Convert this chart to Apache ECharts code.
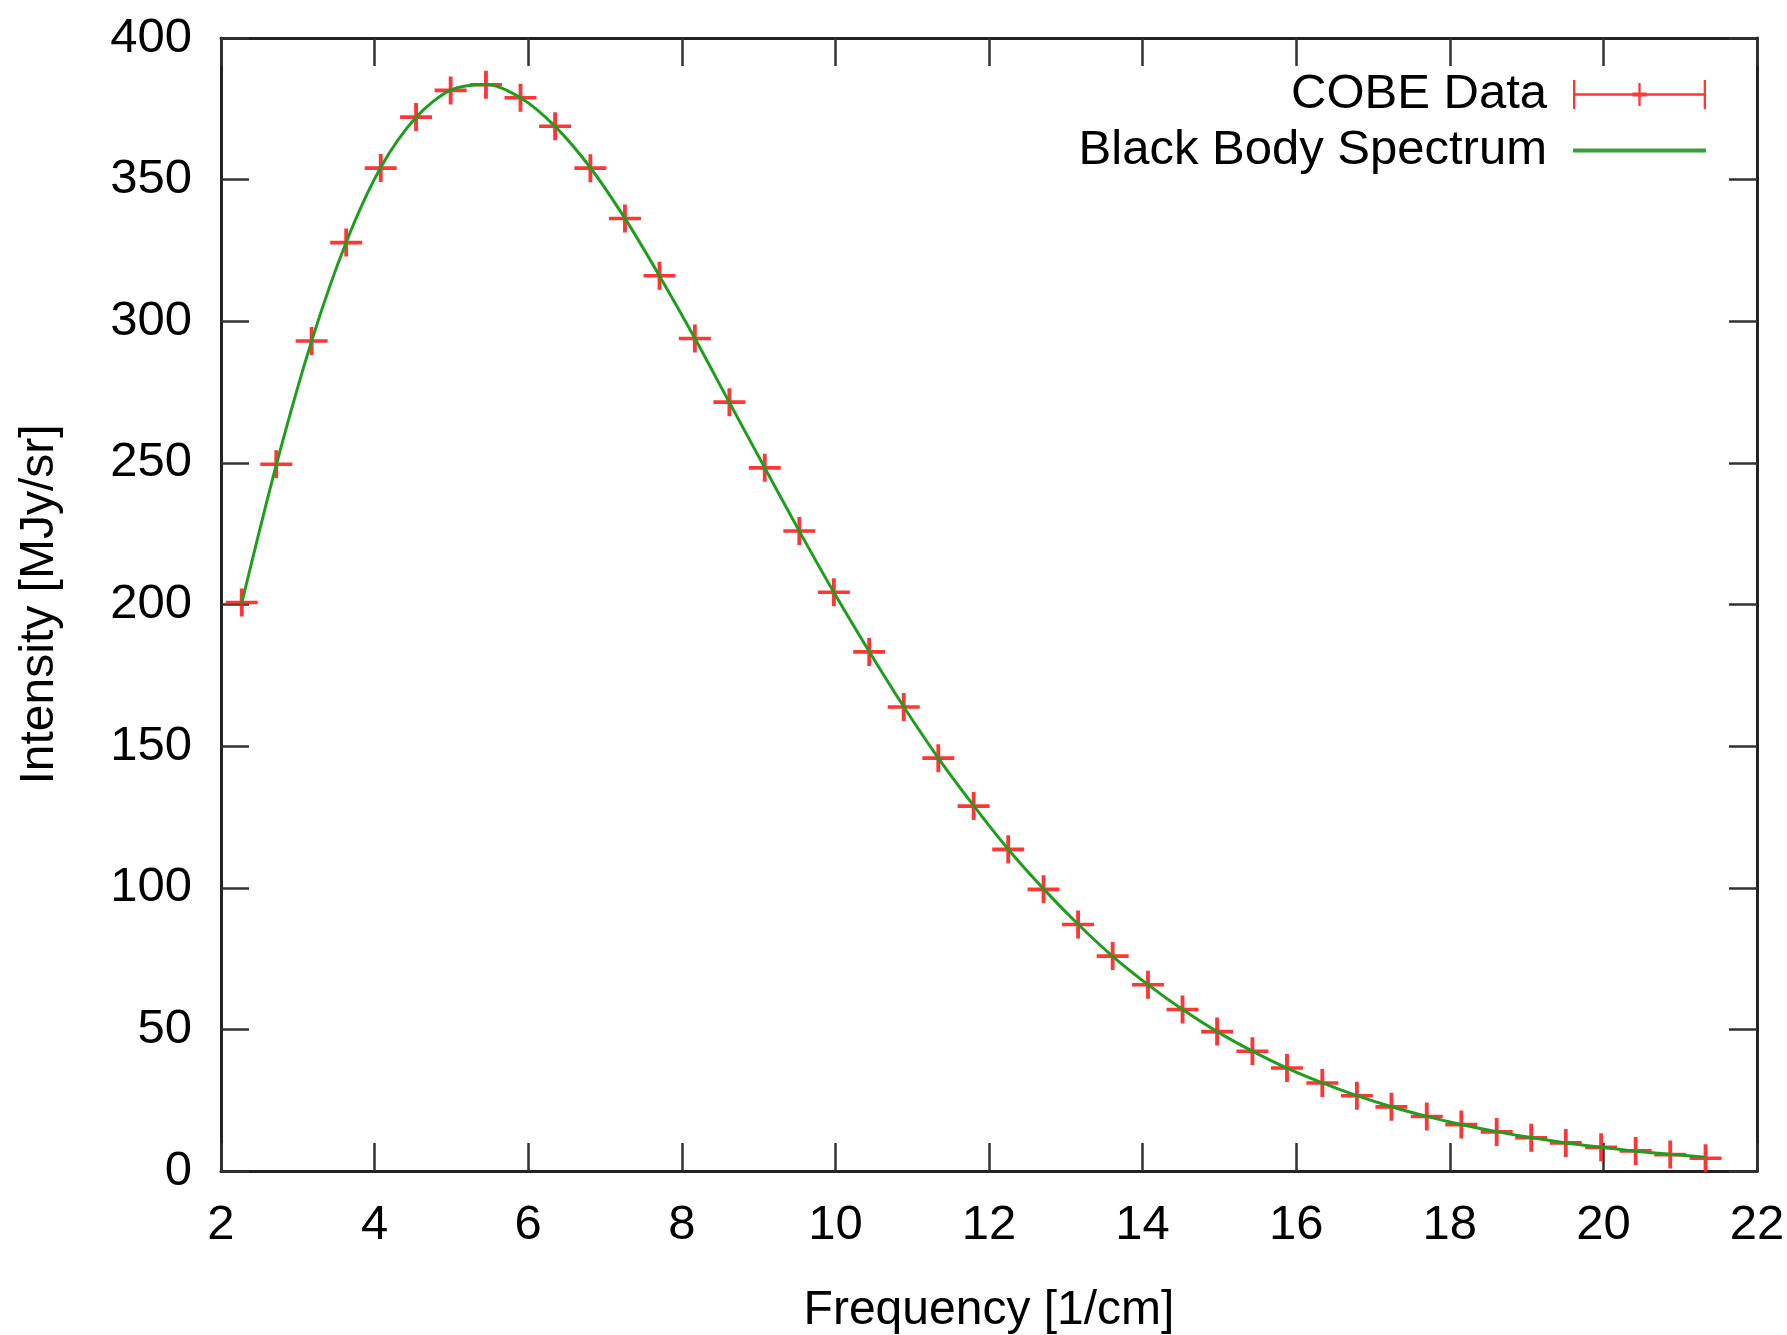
<!DOCTYPE html>
<html>
<head>
<meta charset="utf-8">
<script src="https://cdn.jsdelivr.net/npm/echarts@6/dist/echarts.min.js"></script>
<style>
html,body{margin:0;padding:0;background:#fff;}
#chart{width:1787px;height:1335px;}
</style>
</head>
<body>
<div id="chart"></div>
<script>
// Frequency [1/cm]
const frequency = [2.27, 2.72, 3.18, 3.63, 4.08, 4.54, 4.99, 5.45, 5.90, 6.35, 6.81, 7.26, 7.71, 8.17, 8.62, 9.08, 9.53, 9.98, 10.44, 10.89, 11.34, 11.80, 12.25, 12.71, 13.16, 13.61, 14.07, 14.52, 14.97, 15.43, 15.88, 16.34, 16.79, 17.24, 17.70, 18.15, 18.61, 19.06, 19.51, 19.97, 20.42, 20.87, 21.33];
// COBE Data intensity [MJy/sr]
const cobeIntensity = [200.72, 249.51, 293.02, 327.77, 354.08, 372.08, 381.49, 383.48, 378.90, 368.83, 354.06, 336.28, 316.08, 293.92, 271.43, 248.24, 225.94, 204.33, 183.26, 163.83, 145.75, 128.84, 113.57, 99.45, 87.04, 75.88, 65.77, 57.01, 49.22, 42.27, 36.35, 31.06, 26.58, 22.64, 19.26, 16.39, 13.81, 11.72, 9.92, 8.36, 7.09, 5.80, 4.52];
// Black Body Spectrum curve
const blackBodyIntensity = [200.5, 249.3, 293.0, 327.9, 354.3, 372.0, 381.6, 383.6, 378.9, 368.8, 354.2, 336.3, 316.0, 294.0, 271.3, 248.3, 225.9, 204.3, 183.4, 163.9, 145.8, 129.0, 113.6, 99.6, 87.1, 75.8, 65.8, 57.0, 49.2, 42.3, 36.3, 31.1, 26.6, 22.7, 19.3, 16.4, 13.9, 11.8, 9.9, 8.4, 7.0, 5.9, 4.9];
const xTicks = {min: 2, max: 22, interval: 2};
const yTicks = {min: 0, max: 400, interval: 50};

const FONT = 'Liberation Sans, Arial, sans-serif';
const cobeData = frequency.map((f, i) => [f, cobeIntensity[i]]);
const bbData = frequency.map((f, i) => [f, blackBodyIntensity[i]]);

const axisLine = {show: true, onZero: false, lineStyle: {color: '#222', width: 3}};
const axisTick = {show: true, inside: true, length: 28, lineStyle: {color: '#333', width: 2.5}};
const labelStyle = {fontFamily: FONT, fontSize: 49, color: '#000'};

const plusPath = 'path://M0,4.35H10V5.65H0Z M4.4,0H5.6V10H4.4Z';
const errBarPath = 'path://M0,0H0.8V10H0Z M0,4.6H45.9V5.4H0Z M45.1,0H45.9V10H45.1Z M22.55,1H23.35V9H22.55Z M20.5,4.3H25.4V5.7H20.5Z';
const linePath = 'path://M0,0H33.25V1H0Z';

const chart = echarts.init(document.getElementById('chart'), null, {renderer: 'canvas'});
chart.setOption({
  animation: false,
  backgroundColor: '#fff',
  grid: {left: 221, right: 30, top: 38, bottom: 164, containLabel: false, outerBoundsMode: 'none'},
  legend: {
    orient: 'vertical',
    align: 'right',
    right: 76,
    top: 64,
    itemGap: 5,
    itemWidth: 133,
    itemHeight: 29,
    selectedMode: false,
    textStyle: {fontFamily: FONT, fontSize: 49, color: '#000', lineHeight: 51, padding: [0, 21, 0, 0]},
    data: [
      {name: 'COBE Data', icon: errBarPath, itemStyle: {color: '#ff2020'}},
      {name: 'Black Body Spectrum', icon: linePath, itemStyle: {color: '#3a9e3a'}}
    ]
  },
  xAxis: [
    {type: 'value', min: xTicks.min, max: xTicks.max, interval: xTicks.interval,
     name: 'Frequency [1/cm]', nameLocation: 'middle', nameGap: 116,
     nameTextStyle: {fontFamily: FONT, fontSize: 48, color: '#000'},
     axisLine: axisLine, axisTick: axisTick, splitLine: {show: false},
     axisLabel: Object.assign({margin: 30}, labelStyle)},
    {type: 'value', position: 'top', min: xTicks.min, max: xTicks.max, interval: xTicks.interval,
     axisLine: axisLine, axisTick: axisTick, splitLine: {show: false}, axisLabel: {show: false}}
  ],
  yAxis: [
    {type: 'value', min: yTicks.min, max: yTicks.max, interval: yTicks.interval,
     name: 'Intensity [MJy/sr]', nameLocation: 'middle', nameGap: 157, nameRotate: 90,
     nameTextStyle: {fontFamily: FONT, fontSize: 48, color: '#000'},
     axisLine: axisLine, axisTick: axisTick, splitLine: {show: false},
     axisLabel: Object.assign({margin: 29}, labelStyle)},
    {type: 'value', position: 'right', min: yTicks.min, max: yTicks.max, interval: yTicks.interval,
     axisLine: axisLine, axisTick: axisTick, splitLine: {show: false}, axisLabel: {show: false}}
  ],
  series: [
    {
      name: 'COBE Data', type: 'scatter', data: cobeData,
      symbol: plusPath, symbolSize: [32, 28],
      itemStyle: {color: '#ff2020', opacity: 0.9}, z: 3
    },
    {
      name: 'Black Body Spectrum', type: 'line', data: bbData,
      smooth: 0.3, showSymbol: false, symbol: 'none',
      lineStyle: {color: '#1e9e1e', width: 3}, itemStyle: {color: '#3a9e3a'}, z: 4
    }
  ]
});
</script>
</body>
</html>
